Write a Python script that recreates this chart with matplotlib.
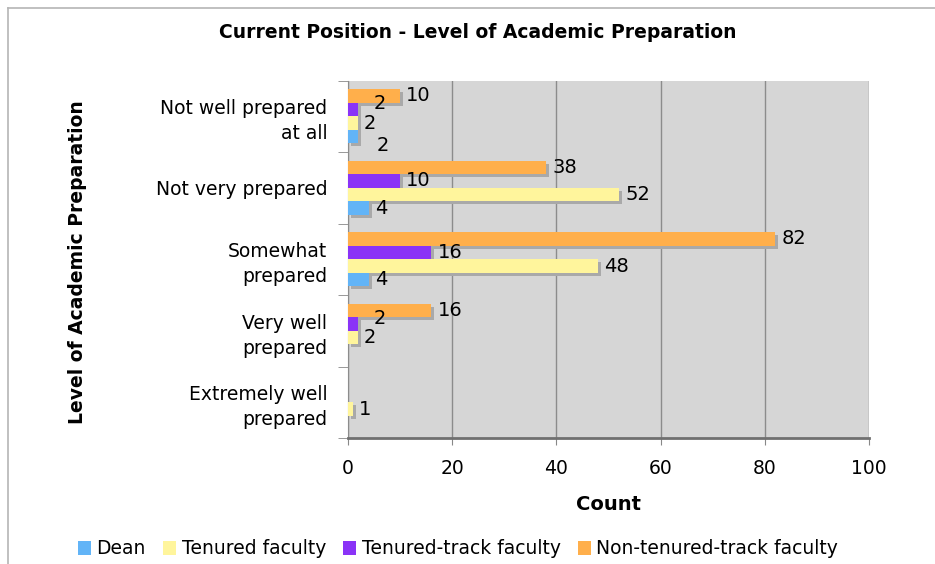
import numpy as np
import matplotlib.pyplot as plt
from matplotlib import transforms
from matplotlib.lines import Line2D

categories = ["Not well prepared\nat all", "Not very prepared", "Somewhat\nprepared",
              "Very well\nprepared", "Extremely well\nprepared"]
series = ["Dean", "Tenured faculty", "Tenured-track faculty", "Non-tenured-track faculty"]
dean = [2, 4, 4, 0, 0]
tenured = [2, 52, 48, 2, 1]
tenure_track = [2, 10, 16, 2, 0]
non_tenure = [10, 38, 82, 16, 0]
colors = ["#62b4f7", "#fff59c", "#8a33f7", "#ffaf4b"]

W, H, DPI = 935, 564, 100
fig = plt.figure(figsize=(W / DPI, H / DPI), dpi=DPI)
ax = fig.add_axes([348 / W, 1 - 438 / H, (869 - 348) / W, (438 - 80.5) / H])

# figure frame (top and left edges only visible)
fig.add_artist(Line2D([8 / W, 1], [1 - 8 / H] * 2, color="#b5b5b5", lw=1.2))
fig.add_artist(Line2D([8 / W] * 2, [0, 1 - 8 / H], color="#b5b5b5", lw=1.2))

ax.set_facecolor("#d6d6d6")
y = np.arange(len(categories))
bh = 0.19
# per group: orange on top, then purple, yellow, blue
offsets = [0.285, 0.095, -0.095, -0.285]
# small label nudges so the little "2"s don't sit on top of each other
lab_dx = [3.5, 1.0, 3.0, 1.0]
lab_dy = [0.12, 0.0, -0.08, 0.0]
shadow = ax.transData + transforms.ScaledTranslation(3 / DPI, -3 / DPI, fig.dpi_scale_trans)
data = [dean, tenured, tenure_track, non_tenure]

for i, (vals, off, col, name) in enumerate(zip(data, offsets, colors, series)):
    pos = y + off
    ax.barh(pos, vals, height=bh, color="#a9a9a9", transform=shadow, zorder=2)
    ax.barh(pos, vals, height=bh, color=col, label=name, zorder=3)
    for p, v in zip(pos, vals):
        if v > 0:
            dx, dy = (lab_dx[i], lab_dy[i]) if v < 3 else (1.2, 0.0)
            ax.text(v + dx, p + dy, str(v), va="center", ha="left",
                    fontsize=14, zorder=4)

ax.set_xlim(0, 100)
ax.set_ylim(4.5, -0.5)
ax.set_xticks([0, 20, 40, 60, 80, 100])
ax.tick_params(axis="x", labelsize=13.5, length=5, color="#888888", pad=10)
ax.set_yticks(y)
ax.set_yticklabels(categories, fontsize=13.5, ha="right", linespacing=1.4)
ax.tick_params(axis="y", length=0, pad=15)
ax.set_yticks(np.arange(-0.5, 5, 1), minor=True)
ax.tick_params(axis="y", which="minor", length=7, color="#888888")
ax.grid(axis="x", color="#8c8c8c", lw=1, zorder=1)
ax.set_axisbelow(True)
for s in ["top", "right"]:
    ax.spines[s].set_visible(False)
ax.spines["left"].set_color("#8c8c8c")
ax.spines["bottom"].set_color("#707070")
ax.spines["bottom"].set_linewidth(2)

ax.set_xlabel("Count", fontsize=14, fontweight="bold", labelpad=12)
fig.text(78 / W, 1 - 262 / H, "Level of Academic Preparation", rotation=90,
         ha="center", va="center", fontsize=13.5, fontweight="bold")
fig.text(478 / W, 1 - 33 / H, "Current Position - Level of Academic Preparation",
         ha="center", va="center", fontsize=13.5, fontweight="bold")

ax.legend(loc="center", bbox_to_anchor=(458 / W, 1 - 549 / H), bbox_transform=fig.transFigure,
          ncol=4, frameon=False, fontsize=13.5, handlelength=0.7, handleheight=0.7,
          handletextpad=0.3, columnspacing=0.9)

fig.savefig("out.png", dpi=DPI)
